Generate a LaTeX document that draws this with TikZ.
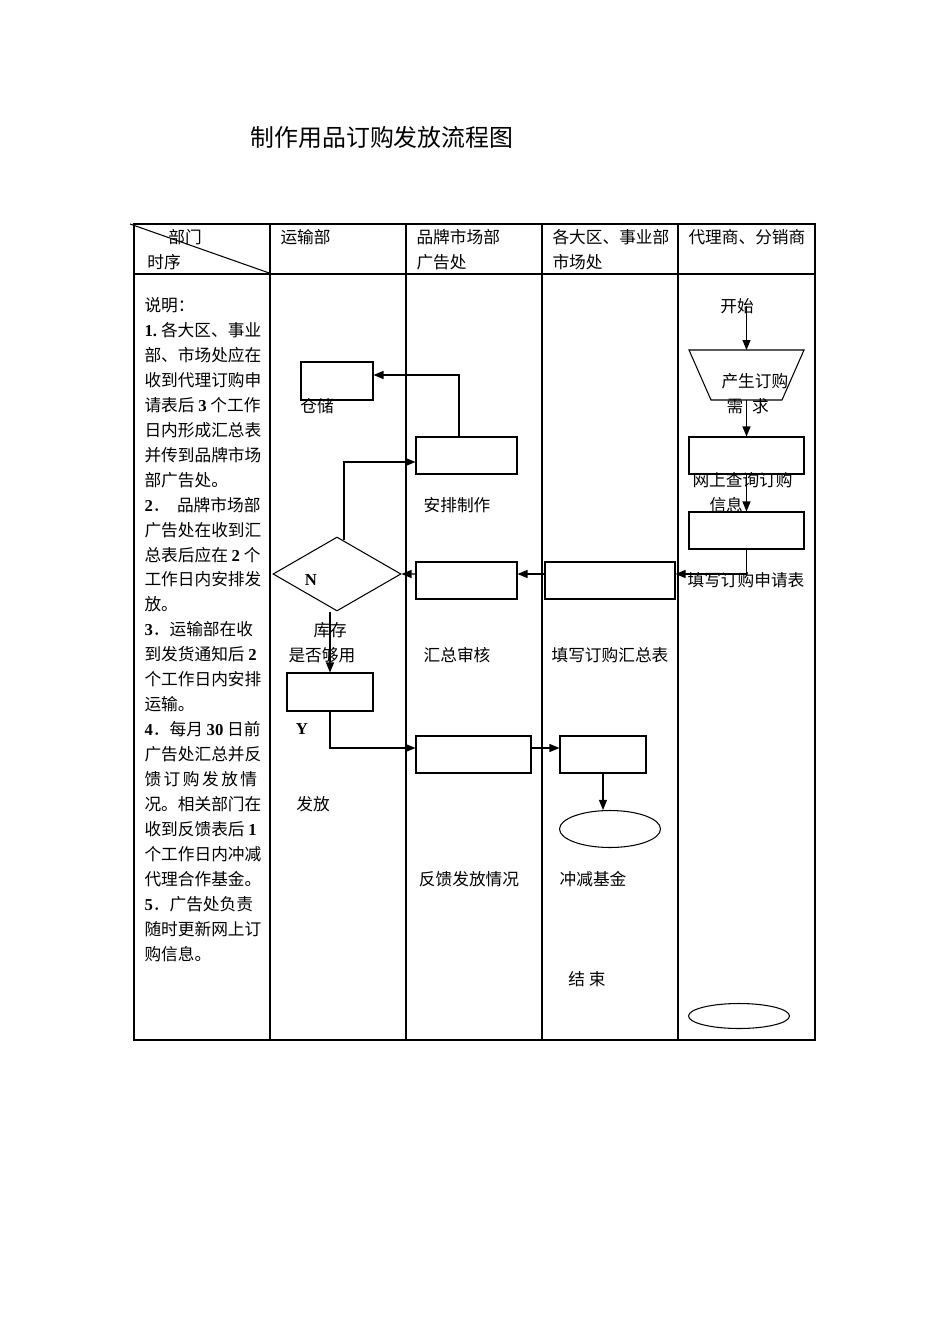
\documentclass[tikz,border=0pt]{standalone}
\usepackage{fontspec}
\setmainfont{Noto Sans CJK SC}
\newfontfamily\numfont{Liberation Serif}
\usetikzlibrary{arrows.meta, shapes.geometric}
\newcommand{\nb}[1]{{\numfont\bfseries #1}}

\begin{document}
\begin{tikzpicture}[
        x=0.02cm, y=-0.02cm,
        line width=0.6pt,
        every node/.style={font=\fontsize{9.5}{14.2}\selectfont, inner sep=0pt},
        box/.style={rectangle, draw, minimum height=0.74cm},
        lbl/.style={align=left, anchor=west},
        arrow/.style={-{Triangle[length=2mm, width=1.6mm]}}
    ]
    \useasboundingbox (0,0) rectangle (950,1344);
    \node[font=\fontsize{13.6}{16}\selectfont] (title) at (382,137) {制作用品订购发放流程图};
    % table
    \draw (134,224) rectangle (815,1040);
    \draw (134,274) -- (815,274);
    \foreach \x in {270,406,542,678} \draw (\x,224) -- (\x,1040);
    \draw (130,224) -- (272,274);
    % header
    \node (bumen) at (185,237) {部门};
    \node (shixu) at (164,262) {时序};
    \node[lbl] (yunshu) at (280,237) {运输部};
    \node[lbl] (pinpai) at (416,249.5) {品牌市场部\\广告处};
    \node[lbl] (daqu) at (552,249.5) {各大区、事业部\\市场处};
    \node[lbl] (daili) at (688,237) {代理商、分销商};
    % notes
    \node[align=left, anchor=north west] (shuoming) at (144,297) {说明：\\
        \nb{1.}\hspace{0.08cm}各大区、事业\\
        部、市场处应在\\
        收到代理订购申\\
        请表后 \nb{3} 个工作\\
        日内形成汇总表\\
        并传到品牌市场\\
        部广告处。\\
        \nb{2}．\ \ 品牌市场部\\
        广告处在收到汇\\
        总表后应在 \nb{2} 个\\
        工作日内安排发\\
        放。\\
        \nb{3}．运输部在收\\
        到发货通知后 \nb{2}\\
        个工作日内安排\\
        运输。\\
        \nb{4}．每月 \nb{30} 日前\\
        广告处汇总并反\\
        馈\hspace{0.05cm}订\hspace{0.05cm}购\hspace{0.05cm}发\hspace{0.05cm}放\hspace{0.05cm}情\\
        况。相关部门在\\
        收到反馈表后 \nb{1}\\
        个工作日内冲减\\
        代理合作基金。\\
        \nb{5}．广告处负责\\
        随时更新网上订\\
        购信息。};
    % shapes
    \node[box, minimum width=1.44cm, minimum height=0.76cm] (cangchu) at (337,381) {};
    \node[diamond, draw, minimum width=2.56cm, minimum height=1.48cm] (kucun) at (337,574) {};
    \node[box, minimum width=1.72cm, minimum height=0.76cm] (fafang) at (330,692) {};
    \node[box, minimum width=2.02cm] (anpai) at (466.5,455.5) {};
    \node[box, minimum width=2.02cm] (huizong) at (466.5,580.5) {};
    \node[box, minimum width=2.3cm] (fankui) at (473.5,754.5) {};
    \node[box, minimum width=2.6cm] (tianbiao) at (610,580.5) {};
    \node[box, minimum width=1.72cm] (chongjian) at (603,754.5) {};
    \node[ellipse, draw, minimum width=2.02cm, minimum height=0.74cm] (jijin) at (610,829) {};
    \draw (689,350) -- (804,350) -- (782,400) -- (711,400) -- cycle;
    \coordinate (xuqiu-top) at (746.5,350);
    \coordinate (xuqiu-bot) at (746.5,400);
    \node[box, minimum width=2.3cm] (chaxun) at (746.5,455.5) {};
    \node[box, minimum width=2.3cm] (shenqing) at (746.5,530.5) {};
    \node[ellipse, draw, minimum width=2.02cm, minimum height=0.5cm] (jieshu) at (739,1016) {};
    % labels
    \node (l-cangchu) at (317,406) {仓储};
    \node (l-n) at (311,580) {\nb{N}};
    \node[lbl] (l-kucun) at (288,642.5) {\hspace{0.5cm}库存\\是否够用};
    \node (l-y) at (302,729) {\nb{Y}};
    \node (l-fafang) at (313,804) {发放};
    \node (l-anpai) at (457,505) {安排制作};
    \node (l-huizong) at (457,655) {汇总审核};
    \node (l-fankui) at (469,879) {反馈发放情况};
    \node (l-tianbiao) at (610,655) {填写订购汇总表};
    \node (l-jijin) at (593,879) {冲减基金};
    \node (l-jieshu) at (587,979) {结\hspace{0.08cm}束};
    \node (kaishi) at (737,306) {开始};
    \node[lbl] (l-xuqiu) at (721,393.5) {产生订购\\\hspace{0.1cm}需\hspace{0.18cm}求};
    \node[lbl] (l-chaxun) at (692,492.5) {网上查询订购\\\hspace{0.34cm}信息};
    \node (l-shenqing) at (746,580) {填写订购申请表};
    % connectors
    \draw[arrow] (kaishi.center -| xuqiu-top) -- (xuqiu-top);
    \draw[arrow] (xuqiu-bot) -- (chaxun.north);
    \draw[arrow] (chaxun.south) -- (shenqing.north);
    \draw[arrow] (shenqing.south) |- ([yshift=0.13cm]tianbiao.east);
    \draw[arrow] ([yshift=0.13cm]tianbiao.west) -- ([yshift=0.13cm]huizong.east);
    \draw[arrow] ([yshift=0.13cm]huizong.west) -- (kucun.east);
    \draw[arrow] ([xshift=0.14cm, yshift=-0.08cm]kucun.north) |- ([yshift=-0.13cm]anpai.west);
    \draw[arrow] ([xshift=-0.15cm]anpai.north) |- ([yshift=0.12cm]cangchu.east);
    \draw[arrow] (kucun.south -| fafang.north) -- (fafang.north);
    \draw[arrow] (fafang.south) |- ([yshift=0.13cm]fankui.west);
    \draw[arrow] ([yshift=0.13cm]fankui.east) -- ([yshift=0.13cm]chongjian.west);
    \draw[arrow] (chongjian.south) -- (chongjian.south |- jijin.north);
\end{tikzpicture}
\end{document}
